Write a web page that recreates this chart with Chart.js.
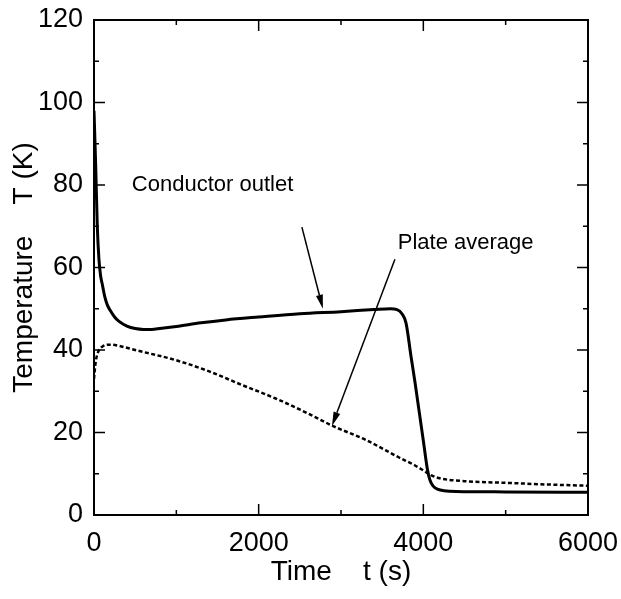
<!DOCTYPE html>
<html>
<head>
<meta charset="utf-8">
<script src="https://cdn.jsdelivr.net/npm/chart.js@4/dist/chart.umd.min.js"></script>
<style>
  html, body { margin: 0; padding: 0; background: #fff; }
  #wrap { width: 621px; height: 599px; }
</style>
</head>
<body>
<div id="wrap"><canvas id="temp-chart"></canvas></div>
<script>
// conductor outlet temperature (K) vs time (s)
const outletTime = [0, 20, 40, 60, 80, 100, 130, 160, 200, 250, 300, 400, 500, 600, 700, 800,
  1000, 1300, 1600, 2000, 2500, 3000, 3400, 3600, 3680, 3740, 3790, 3850, 3900, 3950, 4000,
  4050, 4080, 4120, 4180, 4250, 4400, 5000, 6000];
const outletTemp = [98, 85, 70, 62, 58, 56, 53, 51, 49.5, 48, 47, 45.8, 45.2, 45, 45, 45.2,
  45.7, 46.6, 47.3, 48, 48.8, 49.3, 49.8, 50, 49.8, 48.8, 46.5, 38.5, 32, 25, 18,
  11, 8.5, 7, 6.2, 5.9, 5.7, 5.6, 5.5];

// plate average temperature (K) vs time (s)
const plateTime = [0, 20, 50, 100, 200, 300, 500, 1000, 1400, 1800, 2200, 2600, 2900, 3300,
  3700, 3900, 4000, 4100, 4200, 4500, 5000, 5500, 6000];
const plateTemp = [33, 37, 39.5, 40.8, 41.3, 41, 40, 37.5, 34.8, 31.5, 28.3, 24.6, 21.6, 18.2,
  14, 12, 10.8, 9.6, 8.9, 8.2, 7.8, 7.4, 7.1];

const xTicks = [0, 2000, 4000, 6000];
const yTicks = [0, 20, 40, 60, 80, 100, 120];

// labels with arrows: text anchor, arrow tail, arrow head (data units)
const notes = [
  { text: "Conductor outlet", at: [460, 80], from: [2525, 69.8], to: [2780, 50] },
  { text: "Plate average", at: [3690, 66], from: [3655, 62], to: [2890, 21.6] }
];

const toPoints = (xs, ys) => xs.map((x, i) => ({ x: x, y: ys[i] }));

// frame on all four sides plus inward major/minor ticks
const framePlugin = {
  id: "frame",
  afterDatasetsDraw(chart) {
    const { ctx, chartArea: a, scales: { x, y } } = chart;
    ctx.save();
    ctx.strokeStyle = "#000";
    ctx.lineWidth = 2;
    ctx.strokeRect(a.left, a.top, a.right - a.left, a.bottom - a.top);
    ctx.lineWidth = 1.5;
    ctx.beginPath();
    for (let t = 0; t <= 6000; t += 1000) {
      const px = x.getPixelForValue(t);
      const len = t % 2000 === 0 ? 11 : 5;
      ctx.moveTo(px, a.bottom); ctx.lineTo(px, a.bottom - len);
      ctx.moveTo(px, a.top); ctx.lineTo(px, a.top + len);
    }
    for (let v = 0; v <= 120; v += 10) {
      const py = y.getPixelForValue(v);
      const len = v % 20 === 0 ? 11 : 5;
      ctx.moveTo(a.left, py); ctx.lineTo(a.left + len, py);
      ctx.moveTo(a.right, py); ctx.lineTo(a.right - len, py);
    }
    ctx.stroke();
    ctx.restore();
  }
};

const notesPlugin = {
  id: "notes",
  afterDatasetsDraw(chart) {
    const { ctx, scales: { x, y } } = chart;
    ctx.save();
    ctx.fillStyle = "#000";
    ctx.strokeStyle = "#000";
    ctx.font = "22px 'Liberation Sans', Arial, sans-serif";
    ctx.textBaseline = "middle";
    notes.forEach((n) => {
      ctx.fillText(n.text, x.getPixelForValue(n.at[0]), y.getPixelForValue(n.at[1]));
      const x1 = x.getPixelForValue(n.from[0]), y1 = y.getPixelForValue(n.from[1]);
      const x2 = x.getPixelForValue(n.to[0]), y2 = y.getPixelForValue(n.to[1]);
      const ang = Math.atan2(y2 - y1, x2 - x1);
      const head = 14, half = 3.5;
      const bx = x2 - head * Math.cos(ang), by = y2 - head * Math.sin(ang);
      ctx.lineWidth = 1.5;
      ctx.beginPath();
      ctx.moveTo(x1, y1);
      ctx.lineTo(bx, by);
      ctx.stroke();
      ctx.beginPath();
      ctx.moveTo(x2, y2);
      ctx.lineTo(bx + half * Math.sin(ang), by - half * Math.cos(ang));
      ctx.lineTo(bx - half * Math.sin(ang), by + half * Math.cos(ang));
      ctx.closePath();
      ctx.fill();
    });
    ctx.restore();
  }
};

const font = "'Liberation Sans', Arial, sans-serif";

new Chart(document.getElementById("temp-chart").getContext("2d"), {
  type: "line",
  data: {
    datasets: [
      {
        label: "Conductor outlet",
        data: toPoints(outletTime, outletTemp),
        borderColor: "#000",
        borderWidth: 3,
        pointRadius: 0,
        cubicInterpolationMode: "monotone"
      },
      {
        label: "Plate average",
        data: toPoints(plateTime, plateTemp),
        borderColor: "#000",
        borderWidth: 2.5,
        borderDash: [4, 2.5],
        pointRadius: 0,
        cubicInterpolationMode: "monotone"
      }
    ]
  },
  options: {
    responsive: true,
    maintainAspectRatio: false,
    animation: false,
    layout: { padding: { top: 20, right: 33, left: 0, bottom: 0 } },
    plugins: { legend: { display: false }, tooltip: { enabled: false } },
    scales: {
      x: {
        type: "linear",
        min: 0,
        max: 6000,
        afterBuildTicks: (s) => { s.ticks = xTicks.map((v) => ({ value: v })); },
        afterFit: (s) => { s.height = 84; },
        // ticks are drawn by the frame plugin; tickLength only spaces the labels
        grid: { display: false, drawTicks: true, tickLength: 12 },
        border: { display: false },
        ticks: {
          color: "#000", padding: 0, maxRotation: 0,
          callback: (v) => String(v),
          font: { family: font, size: 27 }
        },
        title: {
          display: true,
          text: "Time    t (s)",
          color: "#000",
          padding: { top: 0, bottom: 10 },
          font: { family: font, size: 28 }
        }
      },
      y: {
        min: 0,
        max: 120,
        afterBuildTicks: (s) => { s.ticks = yTicks.map((v) => ({ value: v })); },
        afterFit: (s) => { s.width = 94; },
        grid: { display: false, drawTicks: true, tickLength: 11 },
        border: { display: false },
        ticks: {
          color: "#000", padding: 0,
          callback: (v) => String(v),
          font: { family: font, size: 27 }
        },
        title: {
          display: true,
          text: "Temperature    T (K)",
          color: "#000",
          padding: { top: 7, bottom: 0 },
          font: { family: font, size: 28 }
        }
      }
    }
  },
  plugins: [framePlugin, notesPlugin]
});
</script>
</body>
</html>
